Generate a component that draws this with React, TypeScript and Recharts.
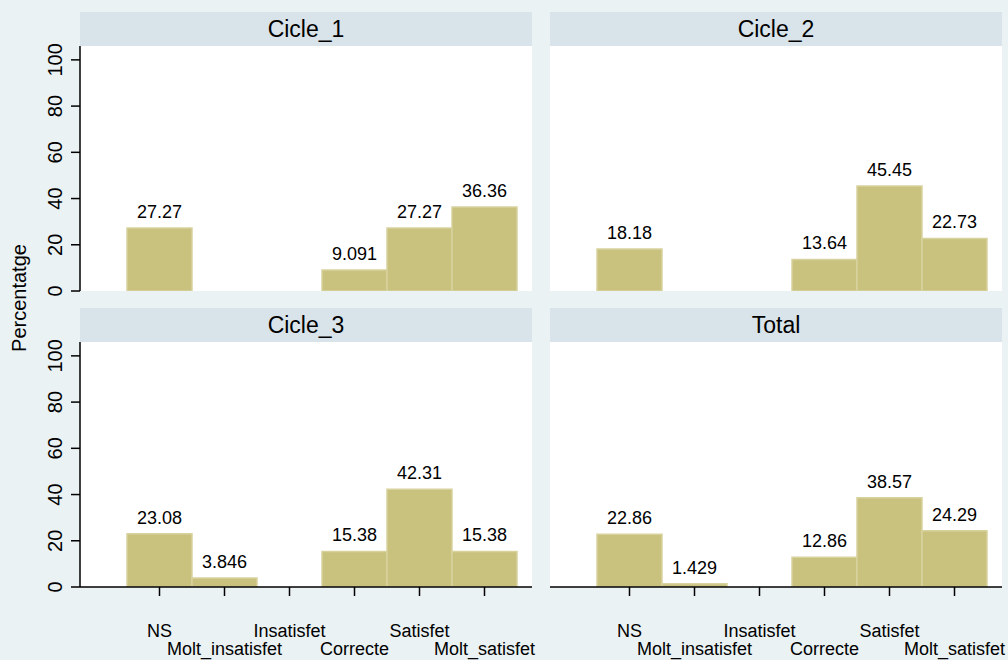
import React from 'react';
import {
  BarChart,
  Bar,
  XAxis,
  YAxis,
  CartesianGrid,
  LabelList
} from 'recharts';

const categories = ['NS', 'Molt_insatisfet', 'Insatisfet', 'Correcte', 'Satisfet', 'Molt_satisfet'];
const cicle1 = [27.27, 0, 0, 9.091, 27.27, 36.36];
const cicle2 = [18.18, 0, 0, 13.64, 45.45, 22.73];
const cicle3 = [23.08, 3.846, 0, 15.38, 42.31, 15.38];
const total = [22.86, 1.429, 0, 12.86, 38.57, 24.29];
const yTicks = [0, 20, 40, 60, 80, 100];
const gridValues = [20, 40, 60, 80];

const FONT = '"Liberation Sans", Arial, Helvetica, sans-serif';
const BG = '#eaf2f3';
const STRIP = '#d9e4ea';
const BAR = '#c9c27e';

const toRows = (values: number[]) => categories.map((c, i) => ({ cat: c, v: values[i] }));

// Stata-style staggered x labels
const XTick = (props: any) => {
  const { x, y, payload, index } = props;
  const dy = index % 2 === 0 ? 35 : 53;
  return (
    <text x={x} y={y + dy} textAnchor="middle" dominantBaseline="central" fill="#000" fontSize={18} fontFamily={FONT}>
      {payload.value}
    </text>
  );
};

const YTick = (props: any) => {
  const { x, y, payload } = props;
  const bx = x - 9;
  return (
    <text x={bx} y={y} transform={`rotate(-90, ${bx}, ${y})`} textAnchor="middle" fill="#000" fontSize={20} fontFamily={FONT}>
      {payload.value}
    </text>
  );
};

interface PanelProps {
  title: string;
  values: number[];
  left: number;
  top: number;
  showY: boolean;
  showX: boolean;
}

const Panel: React.FC<PanelProps> = ({ title, values, left, top, showY, showX }) => {
  const yw = showY ? 80 : 0;
  const plotW = 452;
  const plotH = 245;
  const xh = showX ? 73 : 0;
  return (
    <>
      <div
        style={{
          position: 'absolute',
          left: left + yw,
          top,
          width: plotW,
          height: 34,
          background: STRIP,
          fontFamily: FONT,
          fontSize: 23,
          lineHeight: '34px',
          textAlign: 'center',
          color: '#000'
        }}
      >
        {title}
      </div>
      <div style={{ position: 'absolute', left, top: top + 34 }}>
        <BarChart
          width={yw + plotW}
          height={plotH + xh}
          data={toRows(values)}
          margin={{ top: 0, right: 0, bottom: 0, left: 0 }}
          barCategoryGap={0}
          barGap={0}
          style={{ fontFamily: FONT, overflow: 'visible' }}
        >
          <rect x={yw} y={0} width={plotW} height={plotH} fill="#ffffff" />
          <CartesianGrid
            vertical={false}
            horizontalValues={gridValues}
            stroke={BG}
            strokeWidth={1.5}
          />
          <XAxis
            dataKey="cat"
            type="category"
            padding={{ left: 47, right: 15 }}
            hide={!showX}
            height={xh}
            interval={0}
            tickSize={9}
            tickMargin={0}
            axisLine={{ stroke: '#000', strokeWidth: 1.5 }}
            tickLine={{ stroke: '#000', strokeWidth: 1.5 }}
            tick={<XTick />}
          />
          <YAxis
            type="number"
            domain={[0, 106]}
            ticks={yTicks}
            interval={0}
            hide={!showY}
            width={yw}
            tickSize={9}
            tickMargin={0}
            axisLine={{ stroke: '#000', strokeWidth: 1.5 }}
            tickLine={{ stroke: '#000', strokeWidth: 1.5 }}
            tick={<YTick />}
            allowDataOverflow
          />
          <Bar dataKey="v" fill={BAR} stroke="#d8d29e" strokeWidth={1.5} isAnimationActive={false}>
            <LabelList
              dataKey="v"
              position="top"
              offset={10}
              formatter={(v: any) => (v ? String(v) : '')}
              fill="#000"
              fontSize={18}
              fontFamily={FONT}
            />
          </Bar>
        </BarChart>
      </div>
    </>
  );
};

export default function App() {
  return (
    <div
      style={{
        position: 'absolute',
        left: 0,
        top: 0,
        width: 1008,
        height: 660,
        background: BG,
        overflow: 'hidden'
      }}
    >
      <style>{`.recharts-surface, .recharts-wrapper { overflow: visible !important; }`}</style>
      <Panel title="Cicle_1" values={cicle1} left={0} top={12} showY showX={false} />
      <Panel title="Cicle_2" values={cicle2} left={550} top={12} showY={false} showX={false} />
      <Panel title="Cicle_3" values={cicle3} left={0} top={308} showY showX />
      <Panel title="Total" values={total} left={550} top={308} showY={false} showX />
      <div
        style={{
          position: 'absolute',
          left: 19,
          top: 298,
          transform: 'translate(-50%, -50%) rotate(-90deg)',
          fontFamily: FONT,
          fontSize: 20,
          whiteSpace: 'nowrap',
          color: '#000'
        }}
      >
        Percentatge
      </div>
    </div>
  );
}
